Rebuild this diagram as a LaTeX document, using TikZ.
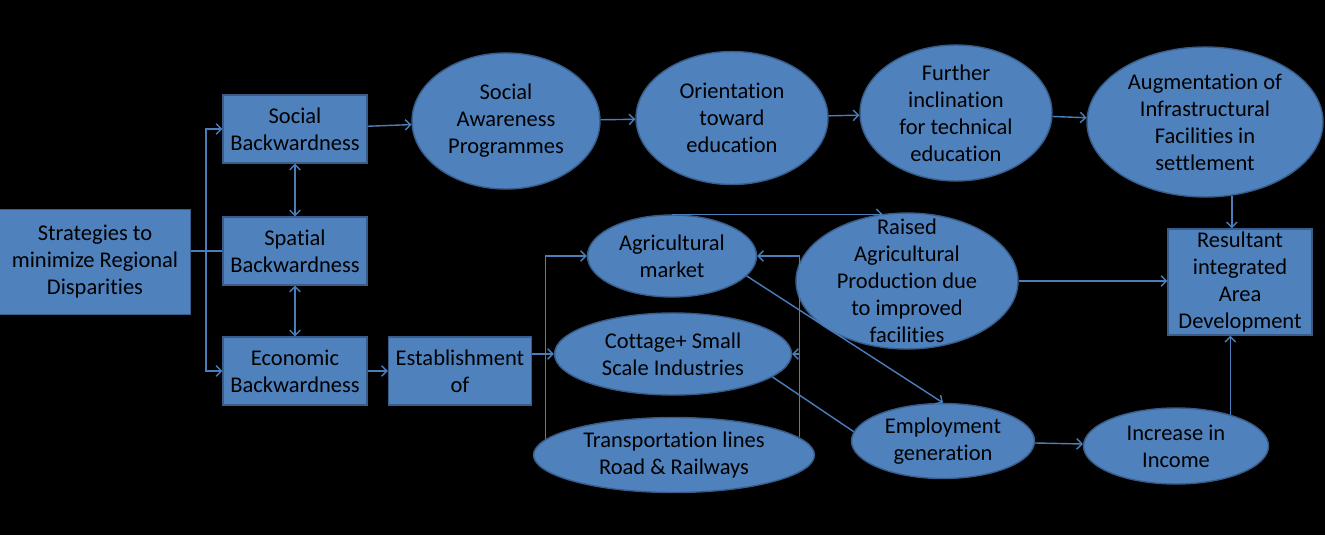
\documentclass[tikz,border=0pt]{standalone}
\usepackage{fontspec}
\setmainfont[Ligatures=NoCommon]{Carlito}
\usepackage{xcolor}
\definecolor{ofblue}{RGB}{79,129,189}
\definecolor{ofedge}{RGB}{56,93,138}
\definecolor{oflink}{RGB}{74,126,187}
\usetikzlibrary{arrows.meta,positioning,shapes.geometric,calc}

\begin{document}
\begin{tikzpicture}[x=0.02cm,y=-0.02cm,
    sqbox/.style={draw=ofedge,fill=ofblue,line width=0.8pt,inner sep=0pt,align=center,
                  font=\fontsize{12.8}{15.4}\selectfont},
    oval/.style={ellipse,draw=ofedge,fill=ofblue,line width=0.8pt,inner sep=0pt,align=center,
                 font=\fontsize{12.8}{15.4}\selectfont},
    link/.style={draw=oflink,line width=0.8pt},
    arr/.style={link,-{Straight Barb[length=3pt,width=6pt]}},
    arrboth/.style={link,{Straight Barb[length=3pt,width=6pt]}-{Straight Barb[length=3pt,width=6pt]}}]
  \fill[black] (0,0) rectangle (1325,535);
  \useasboundingbox (0,0) rectangle (1325,535);
  % Left column
  \node[sqbox,minimum width=3.82cm,minimum height=2.1cm] (strat) at (95,262)
        {Strategies to\\minimize Regional\\Disparities};
  \node[sqbox,minimum width=2.88cm,minimum height=1.36cm] (socback) at (295,129)
        {Social\\Backwardness};
  \node[sqbox,minimum width=2.88cm,minimum height=1.36cm] (spaback) at (295,251)
        {Spatial\\Backwardness};
  \node[sqbox,minimum width=2.88cm,minimum height=1.36cm] (ecoback) at (295,371)
        {Economic\\Backwardness};
  \node[sqbox,minimum width=2.86cm,minimum height=1.36cm] (establ) at (460,371)
        {Establishment\\of};
  % Top row
  \node[oval,minimum width=3.76cm,minimum height=2.72cm] (socaware) at (506,121)
        {Social\\Awareness\\Programmes};
  \node[oval,minimum width=3.84cm,minimum height=2.66cm] (orient) at (732,118)
        {Orientation\\toward\\education};
  \node[oval,minimum width=3.84cm,minimum height=2.72cm,inner ysep=-3pt] (further) at (956,113)
        {Further\\inclination\\for technical\\education};
  \node[oval,minimum width=4.72cm,minimum height=3.0cm] (augment) at (1205,122)
        {Augmentation of\\Infrastructural\\Facilities in\\settlement};
  % Middle and bottom
  \node[oval,minimum width=3.38cm,minimum height=1.64cm] (agri) at (672,256)
        {Agricultural\\market};
  \node[oval,minimum width=4.74cm,minimum height=1.64cm] (cottage) at (673,354)
        {Cottage+ Small\\Scale Industries};
  \node[oval,minimum width=5.62cm,minimum height=1.5cm] (transport) at (674,455)
        {Transportation lines\\Road \& Railways};
  \node[oval,minimum width=4.44cm,minimum height=2.72cm,inner ysep=-8.3pt] (raised) at (907,281)
        {Raised\\Agricultural\\Production due\\to improved\\facilities};
  \node[oval,minimum width=3.66cm,minimum height=1.5cm] (employ) at (943,441)
        {Employment\\generation};
  \node[oval,minimum width=3.7cm,minimum height=1.52cm] (income) at (1176,446)
        {Increase in\\Income};
  \node[sqbox,minimum width=2.88cm,minimum height=2.12cm] (result) at (1240,282)
        {Resultant\\integrated\\Area\\Development};
  % Connectors
  \coordinate (fork) at (206,251);
  \draw[link] (strat.east |- fork) -- (spaback.west);
  \draw[arr] (fork) |- (socback.west);
  \draw[arr] (fork) |- (ecoback.west);
  \draw[arrboth] (socback.south) -- (spaback.north);
  \draw[arrboth] (spaback.south) -- (ecoback.north);
  \draw[arr] (socback) -- (socaware);
  \draw[arr] (ecoback) -- (establ);
  \draw[arr] (socaware) -- (orient);
  \draw[arr] (orient) -- (further);
  \draw[arr] (further) -- (augment);
  \draw[arr] (augment.-70) -- (augment.-70 |- result.north);
  \draw[arr] (establ.east |- cottage) -- (cottage.west);
  \draw[arr] (transport.173) |- (agri.west);
  \draw[arr] (transport.8) |- (agri.east);
  \draw[arr] (transport.8 |- cottage.east) -- (cottage.east);
  \draw[arr] (agri.north) -- (agri.north -| raised.110);
  \draw[arr] (agri.-15) -- (employ.north);
  \draw[link] (cottage.-13) -- (employ.174);
  \draw[arr] (raised.east) -- (raised.east -| result.west);
  \draw[arr] (employ) -- (income);
  \draw[arr] (income.30) -- (income.30 |- result.south);
\end{tikzpicture}
\end{document}
